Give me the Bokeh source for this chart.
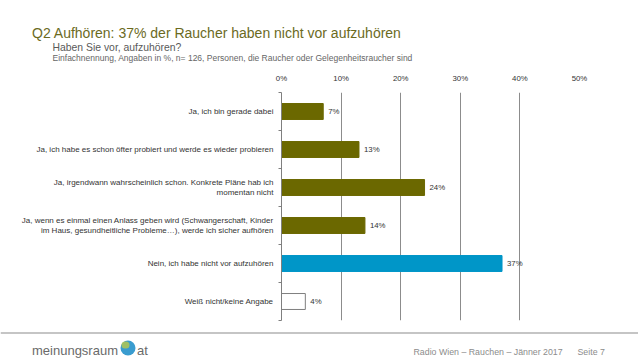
from bokeh.plotting import figure
from bokeh.layouts import column
from bokeh.core.properties import value
from bokeh.models import (Range1d, ColumnDataSource, LabelSet, Label, FixedTicker,
                          BoxAnnotation)
from bokeh.embed import file_html
from bokeh.resources import INLINE

categories = [
    "Ja, ich bin gerade dabei",
    "Ja, ich habe es schon öfter probiert und werde es wieder probieren",
    "Ja, irgendwann wahrscheinlich schon. Konkrete Pläne hab ich\nmomentan nicht",
    "Ja, wenn es einmal einen Anlass geben wird (Schwangerschaft, Kinder\nim Haus, gesundheitliche Probleme…), werde ich sicher aufhören",
    "Nein, ich habe nicht vor aufzuhören",
    "Weiß nicht/keine Angabe",
]
values = [7, 13, 24, 14, 37, 4]
bar_fill = ["#6b6800", "#6b6800", "#6b6800", "#6b6800", "#0096c8", "#ffffff"]
bar_line = ["#6b6800", "#6b6800", "#6b6800", "#6b6800", "#0096c8", "#7f7f7f"]
x_ticks = [0, 10, 20, 30, 40, 50]

title = "Q2 Aufhören: 37% der Raucher haben nicht vor aufzuhören"
subtitle = "Haben Sie vor, aufzuhören?"
note = "Einfachnennung, Angaben in %, n= 126, Personen, die Raucher oder Gelegenheitsraucher sind"
footer = "Radio Wien – Rauchen – Jänner 2017"
page = "Seite 7"
logo = "meinungsraum"
logo_end = "at"

W = 638
H_HEAD, H_CHART, H_FOOT = 70, 256, 33
FONT = "Liberation Sans"


def blank(h):
    f = figure(width=W, height=h, output_backend="svg", toolbar_location=None,
               x_axis_type=None, y_axis_type=None, min_border=0,
               x_range=Range1d(0, 1), y_range=Range1d(0, 1))
    f.outline_line_color = None
    f.xgrid.visible = False
    f.ygrid.visible = False
    f.frame_align = False
    return f


def lab(f, x, y, text, size, color, **kw):
    f.add_layout(Label(x=x, y=y, x_units="screen", y_units="screen", text=text,
                       text_font=FONT, text_font_size=size, text_color=color,
                       text_baseline="alphabetic", **kw))


# ---------- header ----------
head = blank(H_HEAD)
lab(head, 31.5, 37.3, title, "14px", "#6b6a1e")
lab(head, 52, 23.3, subtitle, "10.4px", "#595959")
lab(head, 52, 13, note, "8.5px", "#666666")

# ---------- chart ----------
ypos = [i + 0.5 for i in range(len(categories))]
source = ColumnDataSource(dict(
    y=ypos, v=values, fill=bar_fill, line=bar_line,
    lbl=[f"{v}%" for v in values],
))

p = figure(width=W, height=H_CHART, output_backend="svg", toolbar_location=None,
           x_range=Range1d(0, 50), y_range=Range1d(len(categories), 0),
           x_axis_location="above",
           min_border_left=281, min_border_right=59, min_border_top=22, min_border_bottom=6)
p.outline_line_color = None
p.frame_align = False

p.hbar(y="y", right="v", left=0, height=0.42, source=source,
       fill_color="fill", line_color="line", line_width=1)

xa = p.xaxis[0]
xa.ticker = FixedTicker(ticks=x_ticks)
xa.major_label_overrides = {t: f"{t}%" for t in x_ticks}
xa.axis_line_color = None
xa.major_tick_line_color = None
xa.minor_tick_line_color = None
xa.major_label_text_font = FONT
xa.major_label_text_font_size = "7.8px"
xa.major_label_text_color = "#333333"
xa.major_label_standoff = 4

ya = p.yaxis[0]
ya.ticker = FixedTicker(ticks=ypos, minor_ticks=list(range(len(categories) + 1)))
ya.major_label_overrides = {y: c for y, c in zip(ypos, categories)}
ya.major_label_text_font = FONT
ya.major_label_text_font_size = "8px"
ya.major_label_text_color = "#333333"
ya.major_label_standoff = 5
ya.axis_line_color = "#7f7f7f"
ya.major_tick_line_color = None
ya.major_tick_out = 0
ya.major_tick_in = 0
ya.minor_tick_line_color = "#7f7f7f"
ya.minor_tick_out = 3
ya.minor_tick_in = 0

p.xgrid.ticker = FixedTicker(ticks=x_ticks[1:])
p.xgrid.grid_line_color = "#8c8c8c"
p.ygrid.grid_line_color = None

p.add_layout(LabelSet(x="v", y="y", text="lbl", source=source, x_offset=5,
                      text_baseline="middle", text_font=value(FONT),
                      text_font_size=value("7.8px"), text_color="#333333"))

# ---------- footer ----------
foot = blank(H_FOOT)
foot.add_layout(BoxAnnotation(left=0, right=W, bottom=26, top=27,
                              left_units="screen", right_units="screen",
                              bottom_units="screen", top_units="screen",
                              fill_color="#8c8c8c", fill_alpha=1, line_color=None))
lab(foot, 413, 8, footer, "8.8px", "#8c8c8c")
lab(foot, 577, 8, page, "8.8px", "#8c8c8c")
lab(foot, 31.5, 9, logo, "13px", "#6a6a6a")
lab(foot, 136.5, 9, logo_end, "13px", "#6a6a6a")
foot.add_layout(BoxAnnotation(left=120, right=135, bottom=4, top=19,
                              left_units="screen", right_units="screen",
                              bottom_units="screen", top_units="screen",
                              fill_color="#3a9ccf", fill_alpha=1, line_color=None,
                              border_radius=8))
foot.add_layout(BoxAnnotation(left=121, right=129, bottom=11, top=18,
                              left_units="screen", right_units="screen",
                              bottom_units="screen", top_units="screen",
                              fill_color="#b9c94a", fill_alpha=0.8, line_color=None,
                              border_radius=4))

layout = column(head, p, foot, spacing=0)
open("out.html", "w").write(file_html(layout, INLINE))
